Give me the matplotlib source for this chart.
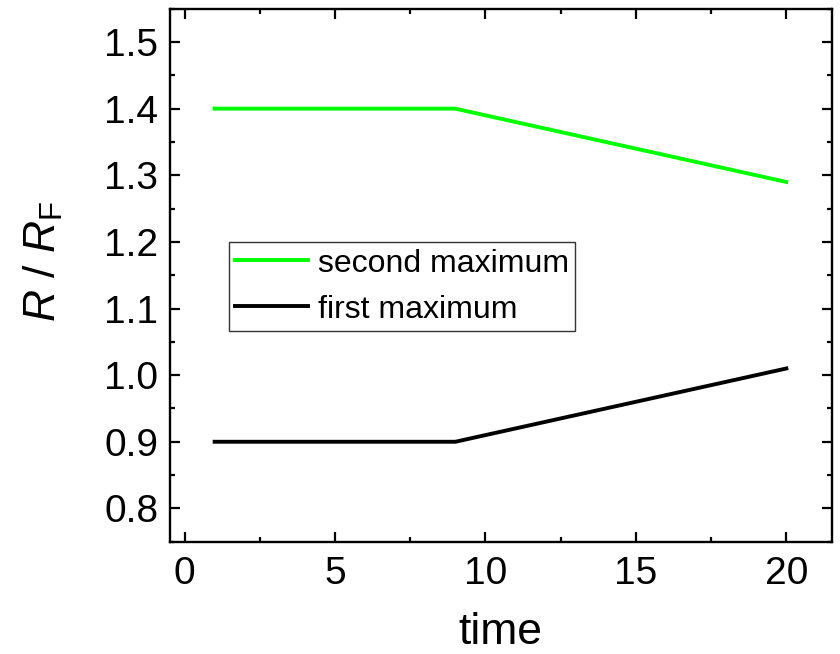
import matplotlib
matplotlib.use("Agg")
import matplotlib.pyplot as plt
from matplotlib.ticker import MultipleLocator

plt.rcParams['font.family'] = ['Liberation Sans', 'DejaVu Sans']
plt.rcParams['mathtext.fontset'] = 'custom'
plt.rcParams['mathtext.rm'] = 'Liberation Sans'
plt.rcParams['mathtext.it'] = 'Liberation Sans:italic'

time = [1, 9, 20]
second_maximum = [1.40, 1.40, 1.29]
first_maximum = [0.90, 0.90, 1.01]

fig = plt.figure(figsize=(8.4, 6.54), dpi=100)
ax = fig.add_axes([169.5 / 840, 1 - 541.7 / 654, 662 / 840, 533 / 654])

ax.plot(time, second_maximum, color='#00ff00', lw=2.8, label='second maximum')
ax.plot(time, first_maximum, color='black', lw=2.8, label='first maximum')

ax.set_xlim(-0.5, 21.5)
ax.set_ylim(0.75, 1.55)
ax.xaxis.set_major_locator(MultipleLocator(5))
ax.xaxis.set_minor_locator(MultipleLocator(2.5))
ax.yaxis.set_major_locator(MultipleLocator(0.1))
ax.yaxis.set_minor_locator(MultipleLocator(0.05))
ax.yaxis.set_major_formatter(plt.FuncFormatter(lambda v, p: f'{v:.1f}'))

ax.tick_params(which='both', direction='in', top=True, right=True, width=1.6,
               labelsize=28)
ax.tick_params(axis='y', which='major', pad=8)
ax.tick_params(axis='x', which='major', pad=10)
ax.tick_params(which='major', length=7)
ax.tick_params(which='minor', length=3.5)
for s in ax.spines.values():
    s.set_linewidth(1.7)

ax.set_xlabel('time', fontsize=32, labelpad=15)
ax.set_ylabel(r'$R$ / $R_{\mathrm{F}}$', fontsize=32, labelpad=28)
ax.yaxis.label.set_y(0.525)

leg = ax.legend(loc='upper left', bbox_to_anchor=(0.09, 0.562), fontsize=23,
                frameon=True, fancybox=False, edgecolor='black',
                handlelength=2.27, handletextpad=0.3, borderpad=0.2,
                labelspacing=0.5, borderaxespad=0)
leg.get_frame().set_linewidth(1.0)

fig.savefig('out.png', dpi=100)
